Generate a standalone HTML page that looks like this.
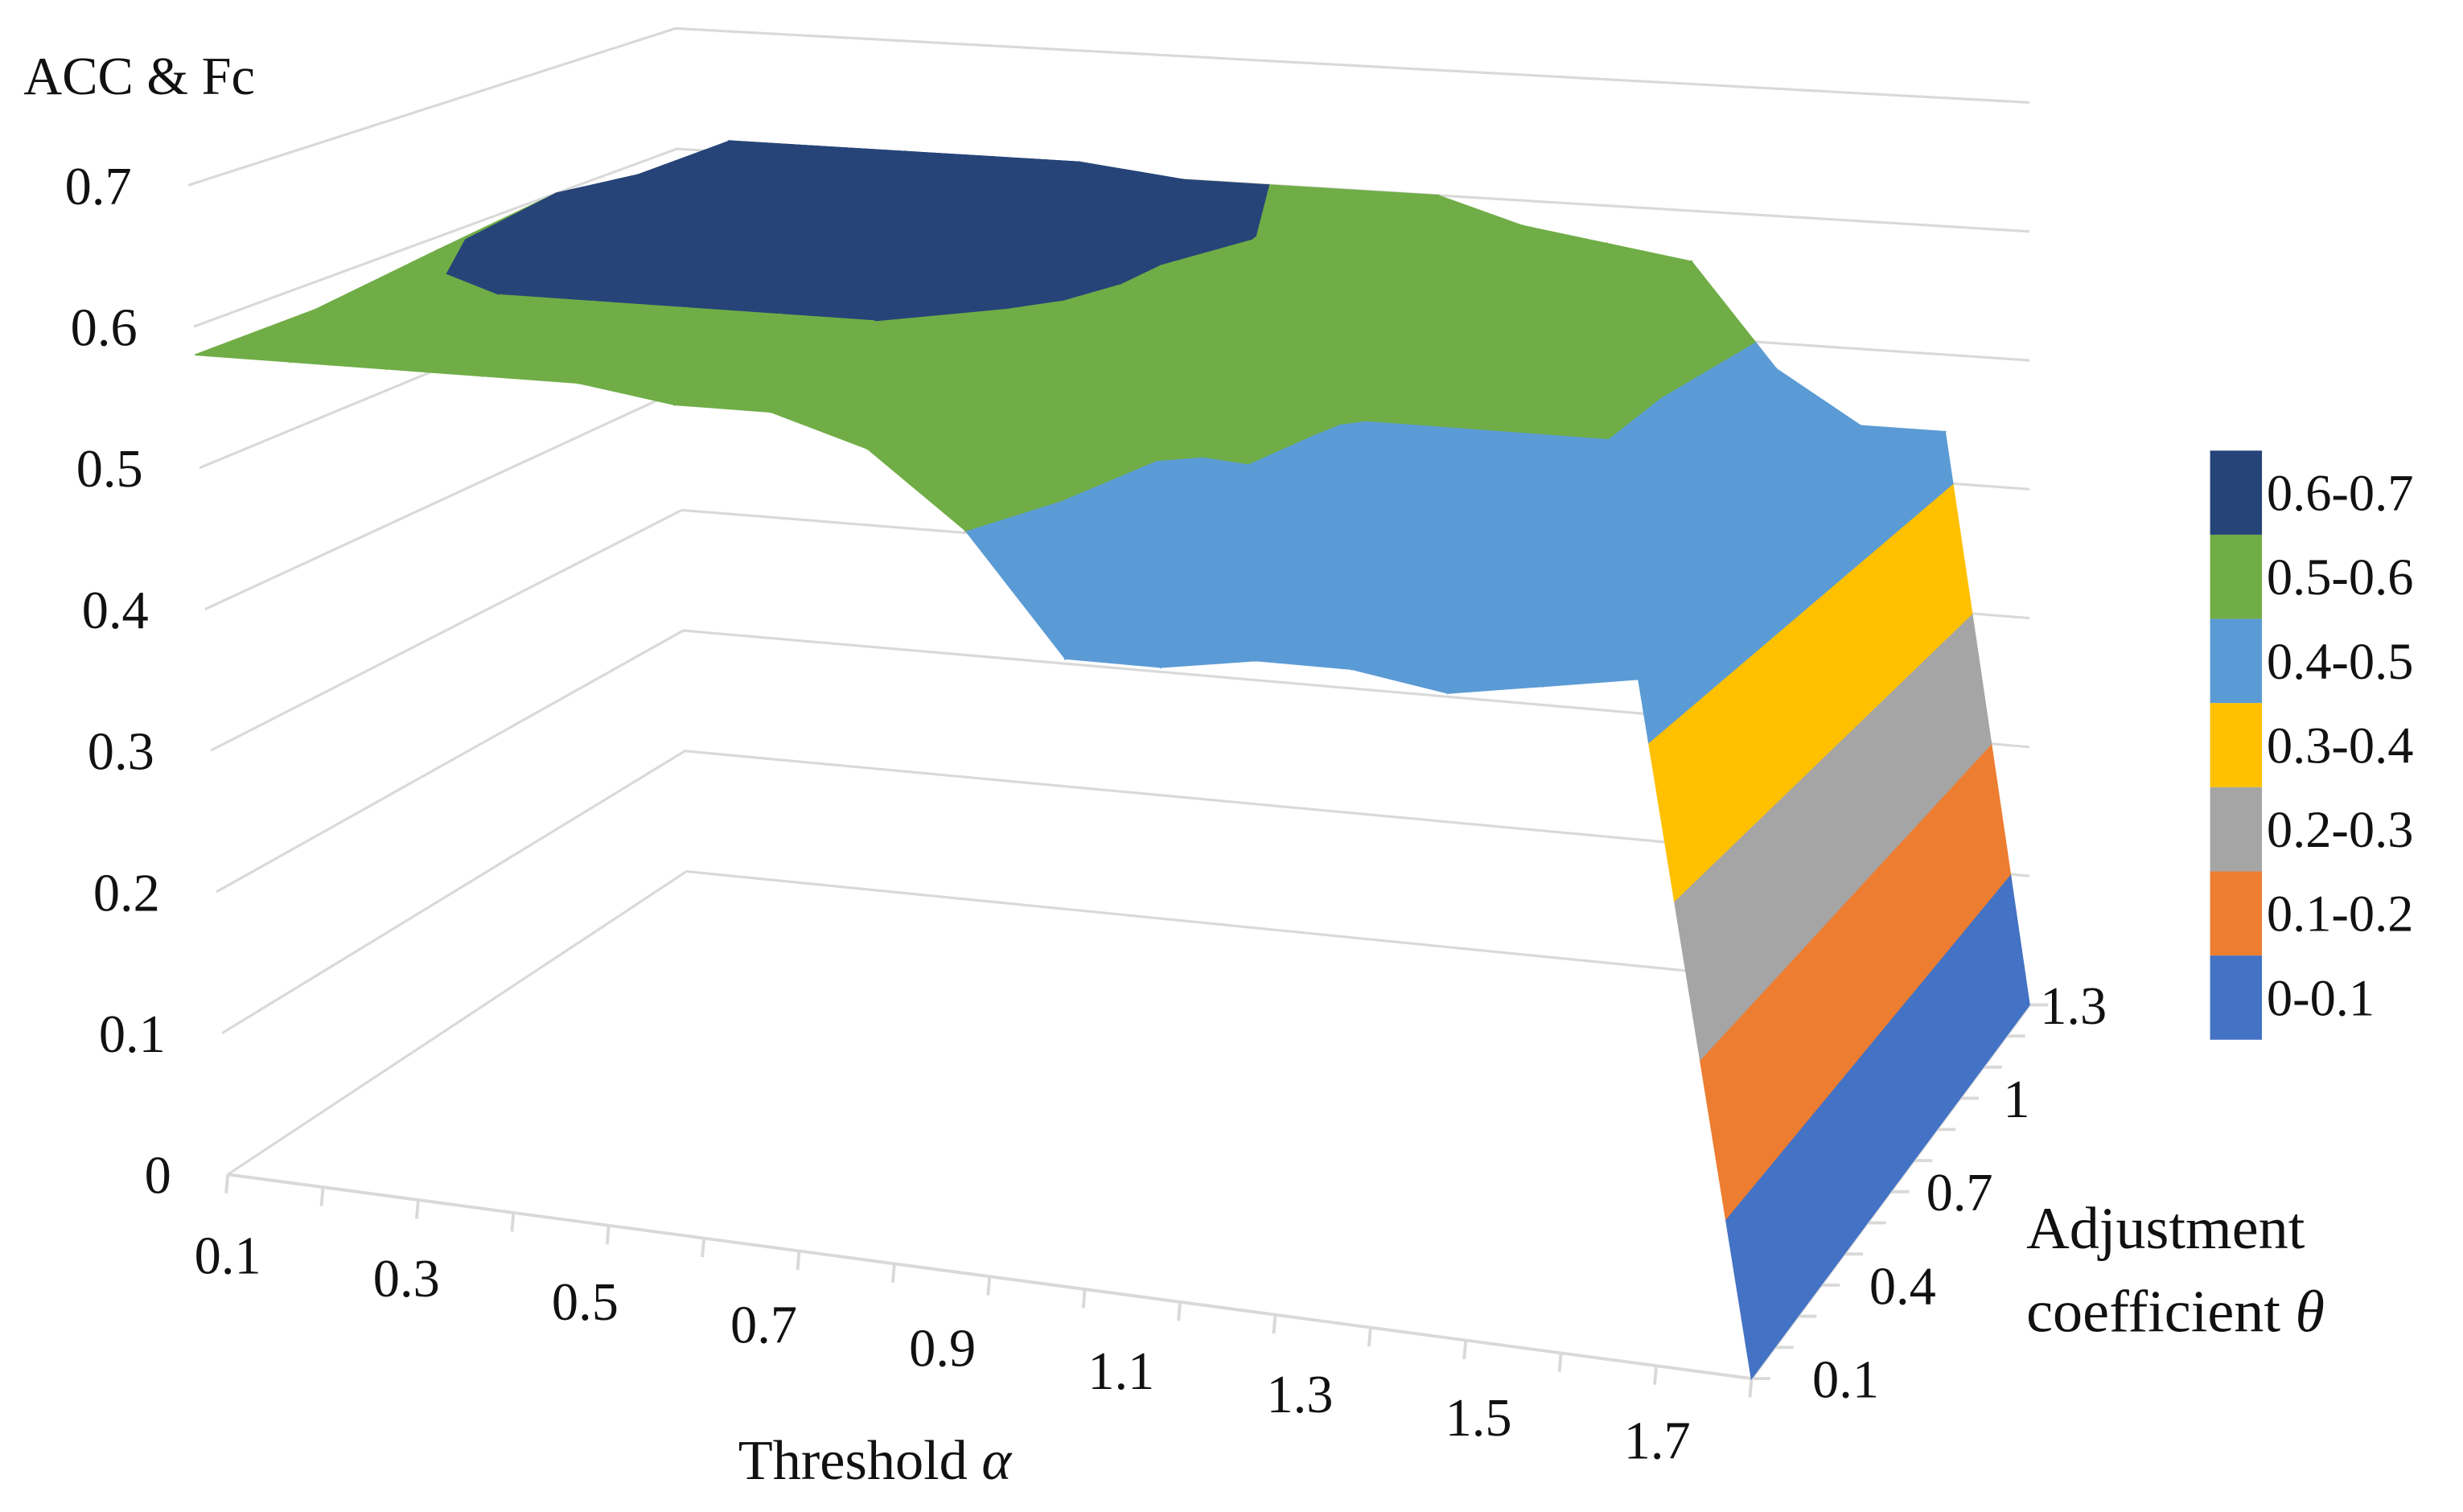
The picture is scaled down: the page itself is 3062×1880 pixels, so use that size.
<!DOCTYPE html>
<html><head><meta charset="utf-8"><style>
html,body{margin:0;padding:0;background:#fff;}
svg{display:block;}
text{font-family:"Liberation Serif",serif;fill:#111;}
</style></head><body>
<svg id="chart" width="3062" height="1880" viewBox="0 0 1568 963" preserveAspectRatio="none" xmlns="http://www.w3.org/2000/svg">
<g id="walls"></g>
<g id="surface"></g>
<g id="axes"></g>
<g id="legend"></g>
</svg>
<script>
const alphas=[0.1,0.2,0.3,0.4,0.5,0.6,0.7,0.8,0.9,1.0,1.1,1.2,1.3,1.4,1.5,1.6,1.7];
const alphaLabels=["0.1","0.3","0.5","0.7","0.9","1.1","1.3","1.5","1.7"];
const thetas=[0.1,0.4,0.7,1.0,1.3];
const thetaLabels=["0.1","0.4","0.7","1","1.3"];
const yTicks=[0,0.1,0.2,0.3,0.4,0.5,0.6,0.7];
const row01=[0.58,0.58,0.58,0.58,0.58,0.57,0.57,0.55,0.50,0.42,0.42,0.43,0.43,0.42,0.43,0.44,0];
const row04=[0.58,0.59,0.60,0.60,0.60,0.60,0.60,0.58,0.55,0.45,0.46,0.46,0.46,0.44,0.44,0.44,0];
const row07=[0.59,0.62,0.65,0.65,0.65,0.65,0.65,0.63,0.58,0.55,0.48,0.48,0.48,0.48,0.44,0.44,0];
const row10=[0.60,0.62,0.65,0.65,0.65,0.65,0.65,0.63,0.60,0.58,0.55,0.55,0.55,0.47,0.44,0.44,0];
const row13=[0.58,0.59,0.60,0.60,0.60,0.60,0.60,0.60,0.60,0.60,0.58,0.57,0.56,0.48,0.44,0.44,0];
const values=[row01,row04,row07,row10,row13];
const bandLabels=["0-0.1","0.1-0.2","0.2-0.3","0.3-0.4","0.4-0.5","0.5-0.6","0.6-0.7"];
const bandColors=["#4472C4","#ED7D31","#A5A5A5","#FFC000","#5B9BD5","#70AD47","#264478"];

const NS="http://www.w3.org/2000/svg";
const C={FL:[145,748],FR:[1115,878],BL:[437,555],BR:[1292,640]};
const SC={FL:900,FR:1000,BL:767,BR:821};
const LN={FL:-36,FR:-25,BL:-10,BR:0};
function bil(o,u,w){
  if(Array.isArray(o.FL)){return [0,1].map(i=>(1-u)*(1-w)*o.FL[i]+u*(1-w)*o.FR[i]+(1-u)*w*o.BL[i]+u*w*o.BR[i]);}
  return (1-u)*(1-w)*o.FL+u*(1-w)*o.FR+(1-u)*w*o.BL+u*w*o.BR;
}
const aMin=alphas[0],aMax=alphas[alphas.length-1],tMin=thetas[0],tMax=thetas[thetas.length-1];
const uOf=a=>(a-aMin)/(aMax-aMin), wOf=t=>(t-tMin)/(tMax-tMin);
function proj(u,w,v){const p=bil(C,u,w);return [p[0]+bil(LN,u,w)*v,p[1]-bil(SC,u,w)*v];}
function mk(tag,attrs,parent,txt){const e=document.createElementNS(NS,tag);for(const k in attrs)e.setAttribute(k,attrs[k]);if(txt!==undefined)e.textContent=txt;parent.appendChild(e);return e;}
const walls=document.getElementById('walls'),surf=document.getElementById('surface'),axes=document.getElementById('axes'),leg=document.getElementById('legend');

yTicks.forEach(v=>{
  const a=proj(0,0,v),b=proj(0,1,v),c=proj(1,1,v);
  const pl=mk('polyline',{points:[a,b,c].map(p=>p.join(',')).join(' '),fill:'none',stroke:'#d9d9d9','stroke-width':1.6},walls);
  
  
  const t=mk('text',{x:a[0]-36,y:a[1]+12,'font-size':34,'text-anchor':'end'},axes,String(v));
  
  
});
{const a=proj(0,0,0),b=proj(1,0,0),c=proj(1,1,0);
 mk('polyline',{points:[a,b,c].map(p=>p.join(',')).join(' '),fill:'none',stroke:'#d9d9d9','stroke-width':2,},walls);}
alphas.forEach(a=>{const p=proj(uOf(a),0,0);mk('line',{x1:p[0],y1:p[1],x2:p[0]-1,y2:p[1]+12,stroke:'#d9d9d9','stroke-width':2,},walls);});
alphaLabels.forEach(l=>{const u=uOf(parseFloat(l));const p=proj(u,0,0);
  const t=mk('text',{x:p[0]-60*u,y:p[1]+63-12*u,'font-size':34,'text-anchor':'middle'},axes,l);
  
  });
for(let i=0;i<=12;i++){const p=proj(1,i/12,0);mk('line',{x1:p[0],y1:p[1],x2:p[0]+12,y2:p[1],stroke:'#d9d9d9','stroke-width':2,},walls);}
thetaLabels.forEach(l=>{const w=wOf(parseFloat(l));const p=proj(1,w,0);
  const t=mk('text',{x:p[0]+60-32*w,y:p[1]+12,'font-size':34,'text-anchor':'middle'},axes,l);
  
  });
mk('text',{x:15,y:60,'font-size':34,},axes,'ACC & Fc');
{const t=mk('text',{x:470,y:942,'font-size':36,},axes,'Threshold ');mk('tspan',{'font-style':'italic'},t,'α');}
mk('text',{x:1290,y:795,'font-size':38,},axes,'Adjustment');
{const t=mk('text',{x:1290,y:848,'font-size':38,},axes,'coefficient ');mk('tspan',{'font-style':'italic'},t,'θ');}

function clip(poly,lo,keepAbove){
  const out=[];
  for(let i=0;i<poly.length;i++){
    const A=poly[i],B=poly[(i+1)%poly.length];
    const ina=keepAbove?A[2]>=lo:A[2]<=lo, inb=keepAbove?B[2]>=lo:B[2]<=lo;
    if(ina)out.push(A);
    if(ina!==inb){const t=(lo-A[2])/(B[2]-A[2]);out.push([A[0]+t*(B[0]-A[0]),A[1]+t*(B[1]-A[1]),lo]);}
  }
  return out;
}
function drawTri(tri){
  for(let b=0;b<bandColors.length;b++){
    const lo=b*0.1,hi=(b+1)*0.1;
    let p=clip(tri,lo,true); if(p.length<3)continue;
    if(b<bandColors.length-1){p=clip(p,hi,false); if(p.length<3)continue;}
    const pts=p.map(q=>proj(q[0],q[1],q[2]).map(n=>n.toFixed(2)).join(',')).join(' ');
    const e=mk('polygon',{points:pts,fill:bandColors[b],stroke:bandColors[b],'stroke-width':0.8},surf);
    
    
  }
}
for(let j=thetas.length-2;j>=0;j--){
  for(let i=0;i<alphas.length-1;i++){
    const u0=uOf(alphas[i]),u1=uOf(alphas[i+1]),w0=wOf(thetas[j]),w1=wOf(thetas[j+1]);
    const p00=[u0,w0,values[j][i]],p10=[u1,w0,values[j][i+1]],p01=[u0,w1,values[j+1][i]],p11=[u1,w1,values[j+1][i+1]];
    drawTri([p01,p11,p10]);drawTri([p01,p10,p00]);
  }
}
for(let b=bandColors.length-1,k=0;b>=0;b--,k++){
  const y=287+k*53.6;
  const r=mk('rect',{x:1407,y:y,width:33,height:53.6,fill:bandColors[b]},leg);
  
  
  const t=mk('text',{x:1443,y:y+38,'font-size':33},leg,bandLabels[b]);
  
  
}
</script>
</body></html>
